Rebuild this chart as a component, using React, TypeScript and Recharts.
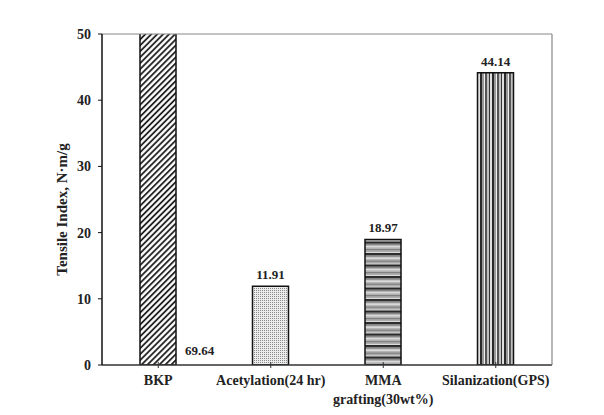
import React from 'react';
import { BarChart, Bar, XAxis, YAxis, ReferenceLine, LabelList, Cell } from 'recharts';

const categories = ['BKP', 'Acetylation(24 hr)', 'MMA\ngrafting(30wt%)', 'Silanization(GPS)'];
const values = [69.64, 11.91, 18.97, 44.14];
const valueLabels = ['69.64', '11.91', '18.97', '44.14'];
const yTicks = [0, 10, 20, 30, 40, 50];
const patternIds = ['pHatch', 'pDots', 'pHoriz', 'pVert'];
const yTitle = 'Tensile Index, N·m/g';

const data = categories.map((c, i) => ({ name: c, value: values[i], label: valueLabels[i] }));

const FONT = '"Liberation Serif", "Times New Roman", serif';

const XTick = (props: any) => {
  const { x, y, payload } = props;
  const axisY = y - 5;
  const lines = String(payload.value).split('\n');
  return (
    <g>
      <line x1={x} x2={x} y1={axisY - 3} y2={axisY + 3} stroke="#333" strokeWidth={1} />
      <text x={x} y={axisY + 20} textAnchor="middle" fontFamily={FONT} fontWeight="bold" fontSize={14} fill="#222">
        {lines.map((l, i) => (
          <tspan key={i} x={x} dy={i === 0 ? 0 : 19}>{l}</tspan>
        ))}
      </text>
    </g>
  );
};

const YTitle = (props: any) => {
  const vb = props.viewBox || {};
  const cx = 62;
  const cy = vb.y + vb.height / 2 + 10;
  return (
    <text
      x={cx}
      y={cy}
      transform={`rotate(-90, ${cx}, ${cy})`}
      textAnchor="middle"
      dominantBaseline="central"
      fontFamily={FONT}
      fontWeight="bold"
      fontSize={15}
      fill="#222"
    >
      {yTitle}
    </text>
  );
};

const ValueLabel = (props: any) => {
  const { x, y, width, height, index } = props;
  const txt = valueLabels[index];
  if (index === 0) {
    const bottom = y + height;
    return (
      <text x={x + width + 9} y={bottom - 10} textAnchor="start" fontFamily={FONT} fontWeight="bold" fontSize={13} fill="#222">
        {txt}
      </text>
    );
  }
  return (
    <text x={x + width / 2} y={y - 7} textAnchor="middle" fontFamily={FONT} fontWeight="bold" fontSize={13} fill="#222">
      {txt}
    </text>
  );
};

export default function App() {
  return (
    <div style={{ position: 'absolute', left: 0, top: 0, background: '#fff' }}>
      <BarChart width={604} height={415} data={data} margin={{ top: 34, right: 51, left: 42, bottom: 20 }} barCategoryGap={0}>
        <defs>
          <pattern id="pHatch" patternUnits="userSpaceOnUse" width={4.2} height={4.2} patternTransform="rotate(45)">
            <rect x={0} y={0} width={4.2} height={4.2} fill="#fff" />
            <line x1={1} y1={0} x2={1} y2={4.2} stroke="#111" strokeWidth={1.7} />
          </pattern>
          <pattern id="pDots" patternUnits="userSpaceOnUse" width={2} height={2}>
            <rect x={0} y={0} width={2} height={2} fill="#ececec" />
            <rect x={0} y={0} width={1} height={1} fill="#8a8a8a" />
          </pattern>
          <pattern id="pHoriz" patternUnits="userSpaceOnUse" width={40} height={11.5}>
            <rect x={0} y={0} width={40} height={2.5} fill="#2a2a2a" />
            <rect x={0} y={2.5} width={40} height={2} fill="#8a8a8a" />
            <rect x={0} y={4.5} width={40} height={1} fill="#f0f0f0" />
            <rect x={0} y={5.5} width={40} height={2} fill="#b5b5b5" />
            <rect x={0} y={7.5} width={40} height={1} fill="#5a5a5a" />
            <rect x={0} y={8.5} width={40} height={2} fill="#a8a8a8" />
            <rect x={0} y={10.5} width={40} height={1} fill="#dcdcdc" />
          </pattern>
          <pattern id="pVert" patternUnits="userSpaceOnUse" width={12} height={10}>
            <rect x={0} y={0} width={2} height={10} fill="#2a2a2a" />
            <rect x={2} y={0} width={2} height={10} fill="#9a9a9a" />
            <rect x={4} y={0} width={1} height={10} fill="#f0f0f0" />
            <rect x={5} y={0} width={2} height={10} fill="#555" />
            <rect x={7} y={0} width={2} height={10} fill="#c0c0c0" />
            <rect x={9} y={0} width={1} height={10} fill="#333" />
            <rect x={10} y={0} width={2} height={10} fill="#e0e0e0" />
          </pattern>
        </defs>
        <ReferenceLine y={50} stroke="#888" strokeWidth={1.2} ifOverflow="visible" />
        <XAxis
          dataKey="name"
          interval={0}
          height={30}
          tickLine={false}
          tickSize={3}
          tickMargin={2}
          axisLine={{ stroke: '#333', strokeWidth: 1.5 }}
          tick={<XTick />}
        />
        <YAxis
          width={60}
          domain={[0, 50]}
          ticks={yTicks}
          allowDataOverflow
          tickSize={4}
          tickMargin={7}
          axisLine={{ stroke: '#111', strokeWidth: 1.5 }}
          tickLine={{ stroke: '#111' }}
          tick={{ fontFamily: FONT, fontWeight: 'bold', fontSize: 14, fill: '#222' }}
          label={<YTitle />}
        />
        <YAxis
          yAxisId="r"
          orientation="right"
          width={1}
          domain={[0, 50]}
          tick={false}
          tickLine={false}
          axisLine={{ stroke: '#888', strokeWidth: 1.2 }}
        />
        <Bar dataKey="value" barSize={36} stroke="#111" strokeWidth={1.5} isAnimationActive={false}>
          {data.map((d, i) => (
            <Cell key={d.name} fill={`url(#${patternIds[i]})`} />
          ))}
          <LabelList dataKey="value" content={<ValueLabel />} />
        </Bar>
      </BarChart>
    </div>
  );
}
